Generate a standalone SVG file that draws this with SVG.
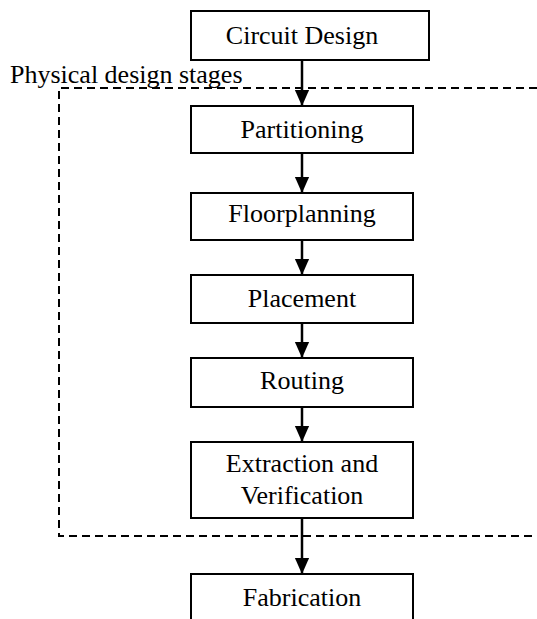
<svg xmlns="http://www.w3.org/2000/svg" width="537" height="619" viewBox="0 0 537 619">
  <style>
    .box { fill: #ffffff; stroke: #000000; stroke-width: 2; }
    .label { font-family: "Liberation Serif", "Times New Roman", serif; font-size: 26px; fill: #000000; text-anchor: middle; }
    .title { font-family: "Liberation Serif", "Times New Roman", serif; font-size: 26px; fill: #000000; }
    .edge { stroke: #000000; stroke-width: 2.5; fill: none; marker-end: url(#arrow); }
    .frame { stroke: #000000; stroke-width: 2; fill: none; stroke-dasharray: 8 5; }
  </style>
  <defs>
    <marker id="arrow" markerWidth="16" markerHeight="18" viewBox="0 0 18 16" refX="18" refY="8" orient="auto" markerUnits="userSpaceOnUse">
      <path d="M0,0 L18,8 L0,16 Z" fill="#000000"/>
    </marker>
  </defs>

  <rect width="537" height="619" fill="#ffffff"/>

  <!-- boundary of the physical design stages -->
  <g id="stage-frame">
    <path class="frame" d="M537,88 H59 V536 H537"/>
    <text class="title" x="10" y="83">Physical design stages</text>
  </g>

  <g id="connectors">
    <line class="edge" x1="302" y1="60" x2="302" y2="106"/>
    <line class="edge" x1="302" y1="153" x2="302" y2="193"/>
    <line class="edge" x1="302" y1="240" x2="302" y2="275"/>
    <line class="edge" x1="302" y1="323" x2="302" y2="358"/>
    <line class="edge" x1="302" y1="407" x2="302" y2="442"/>
    <line class="edge" x1="302" y1="518" x2="302" y2="574"/>
  </g>

  <g id="circuit-design">
    <rect class="box" x="191" y="11" width="238" height="49"/>
    <text class="label" x="302" y="44">Circuit Design</text>
  </g>
  <g id="partitioning">
    <rect class="box" x="191" y="106" width="222" height="47"/>
    <text class="label" x="302" y="138">Partitioning</text>
  </g>
  <g id="floorplanning">
    <rect class="box" x="191" y="193" width="222" height="47"/>
    <text class="label" x="302" y="222">Floorplanning</text>
  </g>
  <g id="placement">
    <rect class="box" x="191" y="275" width="222" height="48"/>
    <text class="label" x="302" y="307">Placement</text>
  </g>
  <g id="routing">
    <rect class="box" x="191" y="358" width="222" height="49"/>
    <text class="label" x="302" y="389">Routing</text>
  </g>
  <g id="extraction-verification">
    <rect class="box" x="191" y="442" width="222" height="76"/>
    <text class="label" x="302" y="472">Extraction and</text>
    <text class="label" x="302" y="504">Verification</text>
  </g>
  <g id="fabrication">
    <rect class="box" x="191" y="574" width="222" height="60"/>
    <text class="label" x="302" y="606">Fabrication</text>
  </g>
</svg>
